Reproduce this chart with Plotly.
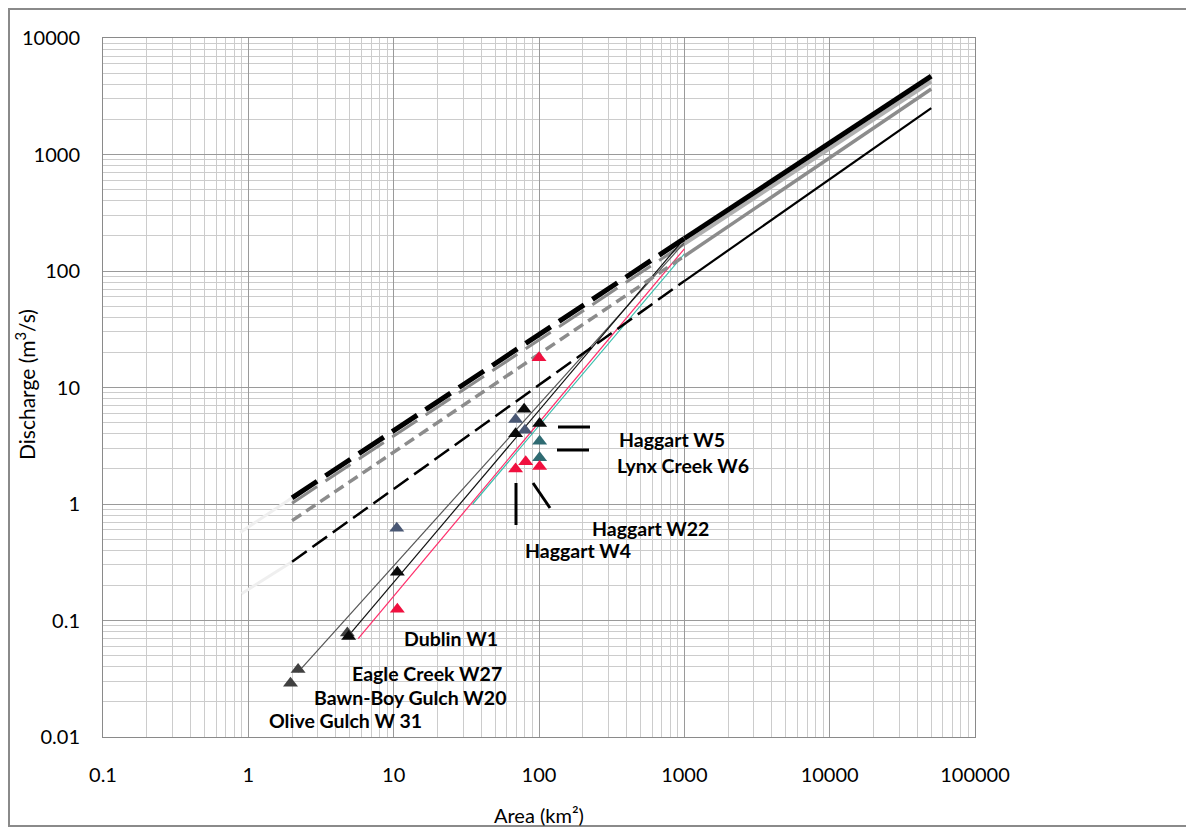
import plotly.graph_objects as go

# ---------------- data ----------------
x_tick_vals = [0.1, 1, 10, 100, 1000, 10000, 100000]
x_tick_text = ["0.1", "1", "10", "100", "1000", "10000", "100000"]
y_tick_vals = [0.01, 0.1, 1, 10, 100, 1000, 10000]
y_tick_text = ["0.01", "0.1", "1", "10", "100", "1000", "10000"]

# regional regression lines (dashed below 1000 km2, solid above)
thick_dash_x = [2, 1000]
thick_dash_y = [1.13, 190]
thick_solid_x = [1000, 50000]
thick_solid_y = [190, 4700]
thick_faint_x = [0.88, 2]
thick_faint_y = [0.57, 1.13]

gray_dash_x = [2, 1000]
gray_dash_y = [0.72, 134]
gray_solid_x = [1000, 50000]
gray_solid_y = [134, 3650]

thin_dash_x = [2, 1000]
thin_dash_y = [0.32, 82]
thin_solid_x = [1000, 50000]
thin_solid_y = [82, 2500]
thin_faint_x = [0.9, 2]
thin_faint_y = [0.17, 0.32]

# site-specific steep lines
steep_gray_x = [2.2, 1000]
steep_gray_y = [0.036, 175]
steep_black_x = [4.8, 1000]
steep_black_y = [0.072, 190]
steep_pink_x = [5.7, 1000]
steep_pink_y = [0.07, 155]
steep_teal_x = [35, 1000]
steep_teal_y = [1.0, 140]

# observed points
pts_black_x = [4.9, 10.6, 79, 69, 101]
pts_black_y = [0.073, 0.26, 6.5, 4.0, 4.9]
pts_dgray_x = [1.95, 2.2, 4.8]
pts_dgray_y = [0.029, 0.038, 0.078]
pts_slate_x = [10.5, 69, 80]
pts_slate_y = [0.62, 5.3, 4.3]
pts_teal_x = [101, 101]
pts_teal_y = [3.45, 2.5]
pts_red_x = [10.6, 69, 81, 101, 100]
pts_red_y = [0.125, 2.0, 2.3, 2.1, 18]

labels = ["Haggart W5", "Lynx Creek W6", "Haggart W22", "Haggart W4",
          "Dublin W1", "Eagle Creek W27", "Bawn-Boy Gulch W20", "Olive Gulch W 31"]

# ---------------- layout helpers ----------------
OFF = 8  # page body margin
W, H = 1194 - OFF, 829 - OFF
L, R, T, B = 103 - OFF, 975 - OFF, 38 - OFF, 737 - OFF


def px(xs):
    return (xs - OFF - L) / (R - L)


def py(ys):
    return (B - (ys - OFF)) / (B - T)


SHADOW = 0.9
fig = go.Figure()


def line(x, y, color, width, dash="solid"):
    fig.add_trace(go.Scatter(x=x, y=y, mode="lines", showlegend=False, hoverinfo="skip",
                             line=dict(color=color, width=width, dash=dash)))


# faint extensions
line(thick_faint_x, thick_faint_y, "#efefef", 3)
line(thin_faint_x, thin_faint_y, "#efefef", 3)

# shadows of the thick line
line(thick_dash_x, [v * SHADOW for v in thick_dash_y], "#8a8a8a", 3, "30px,10px")
line(thick_solid_x, [v * SHADOW for v in thick_solid_y], "#b0b0b0", 4)

# steep lines
line(steep_teal_x, steep_teal_y, "#3cbfae", 1.2)
line(steep_gray_x, steep_gray_y, "#555555", 1.2)
line(steep_black_x, steep_black_y, "#111111", 1.2)
line(steep_pink_x, steep_pink_y, "#ff2d6a", 1.2)

# regression lines
line(thin_dash_x, thin_dash_y, "black", 2.5, "18px,7px")
line(thin_solid_x, thin_solid_y, "black", 2.2)
line(gray_dash_x, gray_dash_y, "#8c8c8c", 3.5, "11px,6px")
line(gray_solid_x, gray_solid_y, "#8c8c8c", 3.5)
line(thick_dash_x, thick_dash_y, "black", 5, "30px,10px")
line(thick_solid_x, thick_solid_y, "black", 5)


def pts(x, y, color):
    fig.add_trace(go.Scatter(x=x, y=y, mode="markers", showlegend=False, hoverinfo="skip",
                             marker=dict(symbol="triangle-up", size=13, color=color,
                                         line=dict(width=0))))


pts(pts_dgray_x, pts_dgray_y, "#404040")
pts(pts_slate_x, pts_slate_y, "#4a5874")
pts(pts_teal_x, pts_teal_y, "#2f6b72")
pts(pts_red_x, pts_red_y, "#f0103f")
pts(pts_black_x, pts_black_y, "#0a0a0a")

# annotation positions (screen pixel left edge, centre y)
label_pos = [(617, 439), (615, 465), (590, 528), (523, 550),
             (402, 638), (350, 673), (312, 697), (267, 720)]
annotations = []
for txt, (ax_, ay_) in zip(labels, label_pos):
    annotations.append(dict(text=txt, x=px(ax_), y=py(ay_), xref="paper", yref="paper",
                            xanchor="left", yanchor="middle", showarrow=False,
                            font=dict(family="Lato", size=19.5, color="black", weight="bold")))

annotations.append(dict(text="Discharge (m<sup>3</sup>/s)", x=px(25), y=py(385), xref="paper",
                        yref="paper", textangle=-90, showarrow=False,
                        xanchor="center", yanchor="middle",
                        font=dict(family="Lato", size=21, color="black")))
annotations.append(dict(text="Area (km²)", x=px(539), y=py(815), xref="paper", yref="paper",
                        showarrow=False, xanchor="center", yanchor="middle",
                        font=dict(family="Lato", size=20, color="black")))

shapes = []
for (x0, y0, x1, y1) in [(558, 427, 590, 427), (557, 450, 589, 450),
                         (516, 483, 516, 525), (533, 483, 550, 508)]:
    shapes.append(dict(type="line", xref="paper", yref="paper", x0=px(x0), y0=py(y0),
                       x1=px(x1), y1=py(y1), line=dict(color="black", width=3)))
shapes.append(dict(type="rect", xref="paper", yref="paper", x0=px(9), y0=py(9),
                   x1=px(1190), y1=py(826), line=dict(color="#8a8a8a", width=2),
                   fillcolor="rgba(0,0,0,0)", layer="below"))

minor_vals = []
for e in range(-2, 5):
    for m in range(2, 10):
        minor_vals.append(m * 10 ** e)

axis_common = dict(type="log", showgrid=True, gridcolor="#9a9a9a", gridwidth=1,
                   showline=True, linecolor="#8a8a8a", linewidth=1, mirror=True,
                   ticks="", zeroline=False,
                   tickfont=dict(family="Lato", size=20, color="black"),
                   minor=dict(tickmode="array", tickvals=minor_vals, showgrid=True,
                              gridcolor="#cccccc", gridwidth=1, ticks=""))

fig.update_xaxes(range=[-1, 5], tickmode="array", tickvals=x_tick_vals, ticktext=x_tick_text,
                 ticklabelstandoff=20, **axis_common)
fig.update_yaxes(range=[-2, 4], tickmode="array", tickvals=y_tick_vals, ticktext=y_tick_text,
                 ticklabelstandoff=18, **axis_common)

fig.update_layout(width=W, height=H, autosize=False,
                  margin=dict(l=L, r=W - R, t=T, b=H - B, pad=0),
                  paper_bgcolor="white", plot_bgcolor="white",
                  annotations=annotations, shapes=shapes)

fig.write_html("out.html")
